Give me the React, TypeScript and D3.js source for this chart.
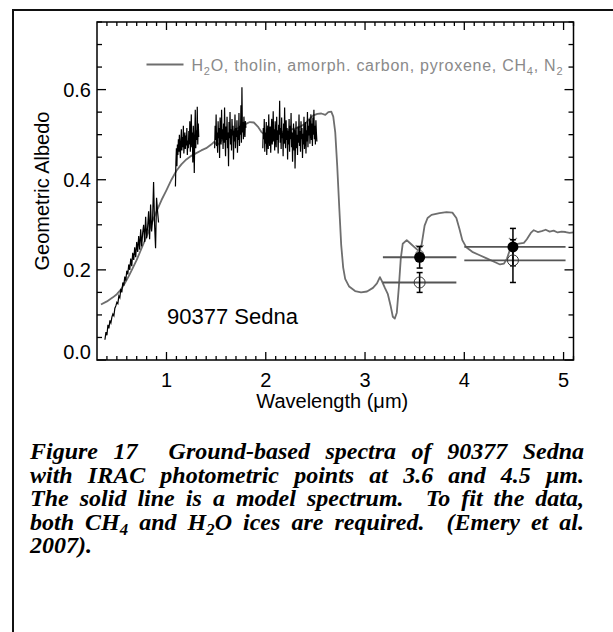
import React, { useMemo } from "react";
import * as d3 from "d3";

const W = 613;
const H = 632;

// ---------- axes ----------
const xDomain = [0.3, 5.1];
const yDomain = [0, 0.75];
const xMajorTicks = [1, 2, 3, 4, 5];
const xTickLabels = ["1", "2", "3", "4", "5"];
const yMajorTicks = [0, 0.2, 0.4, 0.6];
const yTickLabels = ["0.0", "0.2", "0.4", "0.6"];
const xMinorStep = 0.1;
const yMinorStep = 0.05;

// ---------- model spectrum (grey line) ----------
const modelWavelength = [
  0.34, 0.4, 0.46, 0.5, 0.54, 0.58, 0.62, 0.66, 0.7, 0.74, 0.78, 0.82, 0.86, 0.9, 0.95, 1.0, 1.05, 1.1,
  1.15, 1.2, 1.25, 1.3, 1.35, 1.4, 1.45, 1.48, 1.51, 1.55, 1.6, 1.65, 1.7, 1.75, 1.8, 1.84, 1.88, 1.92,
  1.96, 2.0, 2.04, 2.08, 2.12, 2.16, 2.2, 2.25, 2.3, 2.35, 2.4, 2.44, 2.48, 2.52, 2.56, 2.6, 2.63, 2.66,
  2.68, 2.7, 2.72, 2.74, 2.76, 2.78, 2.8, 2.84, 2.9, 2.96, 3.02, 3.08, 3.12, 3.15, 3.17, 3.2, 3.23, 3.26,
  3.28, 3.3, 3.32, 3.34, 3.36, 3.38, 3.42, 3.46, 3.5, 3.54, 3.57, 3.6, 3.63, 3.67, 3.75, 3.82, 3.88, 3.92,
  3.95, 3.98, 4.02, 4.08, 4.15, 4.22, 4.3, 4.36, 4.4, 4.43, 4.46, 4.5, 4.55, 4.6, 4.63, 4.67, 4.7, 4.74,
  4.78, 4.82, 4.86, 4.9, 4.94, 4.98, 5.02, 5.06, 5.1,
];
const modelAlbedo = [
  0.123, 0.13, 0.139, 0.146, 0.156, 0.17, 0.186, 0.204, 0.222, 0.243, 0.264, 0.285, 0.308, 0.33, 0.355,
  0.377, 0.4, 0.42, 0.434, 0.445, 0.453, 0.459, 0.465, 0.47, 0.478, 0.484, 0.476, 0.486, 0.498, 0.506,
  0.512, 0.518, 0.524, 0.528, 0.527, 0.518, 0.505, 0.498, 0.496, 0.5, 0.504, 0.506, 0.508, 0.511, 0.514,
  0.518, 0.525, 0.535, 0.543, 0.546, 0.547, 0.544, 0.55, 0.551, 0.54, 0.505, 0.43, 0.34, 0.255, 0.205,
  0.18, 0.163, 0.153, 0.15, 0.152, 0.16, 0.17, 0.184, 0.175, 0.16, 0.146, 0.118, 0.096, 0.092, 0.105,
  0.16, 0.225, 0.258, 0.266, 0.258, 0.25, 0.242, 0.256, 0.298, 0.315, 0.322, 0.326, 0.328, 0.327, 0.315,
  0.292, 0.266, 0.25, 0.24, 0.233, 0.226, 0.218, 0.212, 0.214, 0.225, 0.245, 0.256, 0.258, 0.26, 0.268,
  0.282, 0.288, 0.284, 0.286, 0.289, 0.285, 0.287, 0.283, 0.285, 0.284, 0.282, 0.283,
];

// ---------- ground-based spectra (black, 4 segments) ----------
const specAStart = 0.38;
const specAStep = 0.01;
const specAAlbedo = [
  0.045, 0.062, 0.055, 0.078, 0.07, 0.088, 0.082, 0.095, 0.102, 0.098, 0.115, 0.12, 0.128, 0.125, 0.142,
  0.138, 0.158, 0.15, 0.172, 0.165, 0.185, 0.176, 0.198, 0.19, 0.212, 0.2, 0.225, 0.208, 0.238, 0.222,
  0.25, 0.228, 0.262, 0.24, 0.275, 0.245, 0.29, 0.252, 0.282, 0.3, 0.262, 0.318, 0.27, 0.295, 0.33, 0.268,
  0.345, 0.285, 0.312, 0.395, 0.3, 0.248, 0.36, 0.33, 0.305,
];
const specBStart = 1.09;
const specBStep = 0.005;
const specBAlbedo = [
  0.385, 0.44, 0.47, 0.43, 0.478, 0.455, 0.49, 0.462, 0.5, 0.47, 0.448, 0.488, 0.512, 0.465, 0.495, 0.472,
  0.52, 0.458, 0.482, 0.505, 0.468, 0.498, 0.476, 0.515, 0.455, 0.487, 0.47, 0.508, 0.478, 0.53, 0.462,
  0.495, 0.545, 0.472, 0.505, 0.438, 0.52, 0.485, 0.415, 0.498, 0.555, 0.47, 0.51, 0.488, 0.562, 0.478,
  0.525, 0.495,
];
const specCStart = 1.485;
const specCStep = 0.005;
const specCAlbedo = [
  0.47, 0.52, 0.488, 0.545, 0.475, 0.505, 0.46, 0.53, 0.492, 0.515, 0.448, 0.538, 0.5, 0.478, 0.555, 0.49,
  0.512, 0.468, 0.525, 0.482, 0.56, 0.495, 0.452, 0.518, 0.488, 0.54, 0.47, 0.505, 0.43, 0.528, 0.492,
  0.55, 0.478, 0.512, 0.465, 0.535, 0.498, 0.52, 0.445, 0.508, 0.485, 0.545, 0.47, 0.515, 0.495, 0.532,
  0.46, 0.51, 0.488, 0.548, 0.475, 0.52, 0.5, 0.565, 0.482, 0.605, 0.505, 0.528, 0.49, 0.54, 0.512, 0.495,
  0.53, 0.515,
];
const specDStart = 1.97;
const specDStep = 0.005;
const specDAlbedo = [
  0.47, 0.515, 0.49, 0.535, 0.462, 0.505, 0.48, 0.528, 0.455, 0.5, 0.52, 0.468, 0.545, 0.492, 0.475, 0.518,
  0.46, 0.508, 0.535, 0.478, 0.498, 0.552, 0.485, 0.512, 0.465, 0.53, 0.495, 0.472, 0.54, 0.488, 0.51,
  0.458, 0.522, 0.5, 0.575, 0.482, 0.515, 0.468, 0.538, 0.492, 0.505, 0.452, 0.525, 0.48, 0.56, 0.495,
  0.47, 0.532, 0.488, 0.515, 0.445, 0.508, 0.478, 0.535, 0.462, 0.52, 0.49, 0.548, 0.472, 0.505, 0.44,
  0.498, 0.525, 0.465, 0.512, 0.425, 0.485, 0.53, 0.47, 0.5, 0.455, 0.518, 0.482, 0.545, 0.475, 0.508,
  0.462, 0.53, 0.49, 0.515, 0.448, 0.502, 0.478, 0.54, 0.468, 0.495, 0.528, 0.458, 0.51, 0.485, 0.55,
  0.472, 0.52, 0.498, 0.535, 0.48, 0.512, 0.545, 0.488, 0.525, 0.475, 0.538, 0.5, 0.555, 0.49, 0.52,
  0.478, 0.532, 0.505, 0.485,
];

// ---------- IRAC photometry ----------
const iracWavelength = [3.55, 4.49];
const iracBandLo = [3.18, 4.0];
const iracBandHi = [3.92, 5.02];
const filledAlbedo = [0.228, 0.251];
const filledLo = [0.204, 0.209];
const filledHi = [0.252, 0.292];
const openAlbedo = [0.172, 0.221];
const openLo = [0.15, 0.172];
const openHi = [0.194, 0.267];
const modelBandAlbedo = [0.246, 0.262];

// ---------- texts ----------
const legendParts = [
  { t: "H" },
  { t: "2", sub: true },
  { t: "O, tholin, amorph. carbon, pyroxene, CH" },
  { t: "4", sub: true },
  { t: ", N" },
  { t: "2", sub: true },
];
const objectLabel = "90377 Sedna";
const xTitle = "Wavelength (μm)";
const yTitle = "Geometric Albedo";
const captionLines = [
  "Figure 17  Ground-based spectra of 90377 Sedna",
  "with IRAC photometric points at 3.6 and 4.5 μm.",
  "The solid line is a model spectrum.  To fit the data,",
  "both CH_4 and H_2O ices are required.  (Emery et al.",
  "2007).",
];
const captionJustify = [true, true, true, true, false];

const SANS = "'Liberation Sans', Arial, Helvetica, sans-serif";
const SERIF = "'Liberation Serif', 'Times New Roman', serif";

const PL = 97;
const PR = 573.5;
const PT = 22;
const PB = 360;

function parseToken(tok: string) {
  const parts: { t: string; sub: boolean }[] = [];
  let cur = "";
  for (let i = 0; i < tok.length; i++) {
    if (tok[i] === "_" && i + 1 < tok.length) {
      if (cur) parts.push({ t: cur, sub: false });
      cur = "";
      parts.push({ t: tok[i + 1], sub: true });
      i++;
    } else cur += tok[i];
  }
  if (cur) parts.push({ t: cur, sub: false });
  return parts;
}

function segPoints(start: number, step: number, vals: number[]) {
  return vals.map((v, i) => [start + i * step, v] as [number, number]);
}

export default function App() {
  const x = d3.scaleLinear().domain(xDomain).range([PL, PR]);
  const y = d3.scaleLinear().domain(yDomain).range([PB, PT]);

  const line = d3
    .line<[number, number]>()
    .x((d) => x(d[0]))
    .y((d) => y(d[1]));

  const modelPts = modelWavelength.map((w, i) => [w, modelAlbedo[i]] as [number, number]);
  const segs = [
    segPoints(specAStart, specAStep, specAAlbedo),
    segPoints(specBStart, specBStep, specBAlbedo),
    segPoints(specCStart, specCStep, specCAlbedo),
    segPoints(specDStart, specDStep, specDAlbedo),
  ];

  const xMinor = d3.range(0.4, xDomain[1] + 1e-6, xMinorStep).filter((v) => Math.abs(v - Math.round(v)) > 1e-6);
  const yMinor = d3.range(0.05, yDomain[1] + 1e-6, yMinorStep).filter(
    (v) => !yMajorTicks.some((t) => Math.abs(t - v) < 1e-6)
  );

  const capFs = 24;
  const capLeft = 30;
  const capRight = 584;
  const capBase0 = 459;
  const capLead = 23.5;

  const caption = useMemo(() => {
    const canvas = document.createElement("canvas");
    const ctx = canvas.getContext("2d")!;
    const measure = (s: string, sub: boolean) => {
      ctx.font = `italic bold ${sub ? capFs * 0.7 : capFs}px 'Liberation Serif'`;
      return ctx.measureText(s).width;
    };
    ctx.font = `italic bold ${capFs}px 'Liberation Serif'`;
    const spaceW = ctx.measureText(" ").width;
    return captionLines.map((ln, li) => {
      const toks = ln.split(" ").map(parseToken);
      const widths = toks.map((p) => p.reduce((s, q) => s + measure(q.t, q.sub), 0));
      const total = widths.reduce((a, b) => a + b, 0);
      const gap = captionJustify[li] && toks.length > 1 ? (capRight - capLeft - total) / (toks.length - 1) : spaceW;
      let pos = capLeft;
      const out: { x: number; parts: { t: string; sub: boolean }[] }[] = [];
      toks.forEach((p, i) => {
        if (p.length) out.push({ x: pos, parts: p });
        pos += widths[i] + gap;
      });
      return out;
    });
  }, []);

  const grey = "#6e6e6e";

  return (
    <svg
      width={W}
      height={H}
      style={{ position: "absolute", left: 0, top: 0, display: "block", background: "#fff" }}
    >
      <rect x={0} y={0} width={W} height={H} fill="#fff" />
      {/* outer frame (only top and left visible) */}
      <line x1={12} y1={10} x2={W} y2={10} stroke="#111" strokeWidth={2} />
      <line x1={13} y1={10} x2={13} y2={H} stroke="#111" strokeWidth={2} />

      {/* model */}
      <path d={line(modelPts) || ""} fill="none" stroke={grey} strokeWidth={1.8} strokeLinejoin="round" />

      {/* data spectra */}
      {segs.map((s, i) => (
        <path key={i} d={line(s) || ""} fill="none" stroke="#000" strokeWidth={1.2} strokeLinejoin="miter" />
      ))}

      {/* photometry bandwidth bars */}
      {iracWavelength.map((w, i) => (
        <g key={"bw" + i} stroke="#555" strokeWidth={1.8}>
          <line x1={x(iracBandLo[i])} x2={x(iracBandHi[i])} y1={y(filledAlbedo[i])} y2={y(filledAlbedo[i])} />
          <line x1={x(iracBandLo[i])} x2={x(iracBandHi[i])} y1={y(openAlbedo[i])} y2={y(openAlbedo[i])} />
        </g>
      ))}

      {/* model band values (x markers) */}
      {iracWavelength.map((w, i) => {
        const cx = x(w);
        const cy = y(modelBandAlbedo[i]);
        const r = 4;
        return (
          <g key={"mx" + i} stroke="#888" strokeWidth={1.2}>
            <line x1={cx - r} y1={cy - r} x2={cx + r} y2={cy + r} />
            <line x1={cx - r} y1={cy + r} x2={cx + r} y2={cy - r} />
          </g>
        );
      })}

      {/* error bars */}
      {iracWavelength.map((w, i) => {
        const cx = x(w);
        const cw = 3;
        return (
          <g key={"eb" + i} stroke="#000" strokeWidth={1.5}>
            <line x1={cx} x2={cx} y1={y(openLo[i])} y2={y(openHi[i])} />
            <line x1={cx - cw} x2={cx + cw} y1={y(openLo[i])} y2={y(openLo[i])} />
            <line x1={cx - cw} x2={cx + cw} y1={y(openHi[i])} y2={y(openHi[i])} />
            <line x1={cx} x2={cx} y1={y(filledLo[i])} y2={y(filledHi[i])} />
            <line x1={cx - cw} x2={cx + cw} y1={y(filledLo[i])} y2={y(filledLo[i])} />
            <line x1={cx - cw} x2={cx + cw} y1={y(filledHi[i])} y2={y(filledHi[i])} />
          </g>
        );
      })}

      {/* points */}
      {iracWavelength.map((w, i) => (
        <g key={"pt" + i}>
          <circle cx={x(w)} cy={y(openAlbedo[i])} r={5.5} fill="none" stroke="#333" strokeWidth={1} />
          <circle cx={x(w)} cy={y(filledAlbedo[i])} r={5.5} fill="#000" />
        </g>
      ))}

      {/* plot frame */}
      <rect x={PL} y={PT} width={PR - PL} height={PB - PT} fill="none" stroke="#000" strokeWidth={1.5} />

      {/* ticks */}
      <g stroke="#000" strokeWidth={1.3}>
        {xMajorTicks.map((t) => (
          <g key={"xt" + t}>
            <line x1={x(t)} x2={x(t)} y1={PB} y2={PB - 8} />
            <line x1={x(t)} x2={x(t)} y1={PT} y2={PT + 8} />
          </g>
        ))}
        {xMinor.map((t) => (
          <g key={"xm" + t}>
            <line x1={x(t)} x2={x(t)} y1={PB} y2={PB - 4} />
            <line x1={x(t)} x2={x(t)} y1={PT} y2={PT + 4} />
          </g>
        ))}
        {yMajorTicks.map((t) => (
          <g key={"yt" + t}>
            <line x1={PL} x2={PL + 9} y1={y(t)} y2={y(t)} />
            <line x1={PR} x2={PR - 9} y1={y(t)} y2={y(t)} />
          </g>
        ))}
        {yMinor.map((t) => (
          <g key={"ym" + t}>
            <line x1={PL} x2={PL + 5} y1={y(t)} y2={y(t)} />
            <line x1={PR} x2={PR - 5} y1={y(t)} y2={y(t)} />
          </g>
        ))}
      </g>

      {/* tick labels */}
      <g fontFamily={SANS} fontSize={20} fill="#000">
        {xMajorTicks.map((t, i) => (
          <text key={"xl" + t} x={x(t)} y={PB + 27} textAnchor="middle">
            {xTickLabels[i]}
          </text>
        ))}
        {yMajorTicks.map((t, i) => (
          <text key={"yl" + t} x={PL - 6} y={t === 0 ? y(t) - 1 : y(t) + 7} textAnchor="end">
            {yTickLabels[i]}
          </text>
        ))}
      </g>

      {/* axis titles */}
      <text x={(PL + PR) / 2 - 3} y={408} textAnchor="middle" fontFamily={SANS} fontSize={20}>
        {xTitle}
      </text>
      <text
        transform={`translate(49, ${(PT + PB) / 2}) rotate(-90)`}
        textAnchor="middle"
        fontFamily={SANS}
        fontSize={20}
      >
        {yTitle}
      </text>

      {/* legend */}
      <line x1={146.5} x2={183.5} y1={64.5} y2={64.5} stroke={grey} strokeWidth={1.8} />
      <text x={191.5} y={70.5} fontFamily={SANS} fontSize={16} fill="#8a8a8a" textLength={371} lengthAdjust="spacing">
        {legendParts.map((p, i) => {
          const prevSub = i > 0 && legendParts[i - 1].sub;
          const dy = p.sub ? 4 : prevSub ? -4 : 0;
          return (
            <tspan key={i} fontSize={p.sub ? 11 : 16} dy={dy}>
              {p.t}
            </tspan>
          );
        })}
      </text>

      {/* object label */}
      <text x={167} y={324} fontFamily={SANS} fontSize={22}>
        {objectLabel}
      </text>

      {/* caption */}
      <g fontFamily={SERIF} fontStyle="italic" fontWeight="bold" fontSize={capFs} fill="#000">
        {caption.map((words, li) =>
          words.map((w, wi) => (
            <text key={li + "-" + wi} x={w.x} y={capBase0 + li * capLead}>
              {w.parts.map((p, pi) => {
                const prevSub = pi > 0 && w.parts[pi - 1].sub;
                const dy = p.sub ? capFs * 0.22 : prevSub ? -capFs * 0.22 : 0;
                return (
                  <tspan key={pi} fontSize={p.sub ? capFs * 0.7 : capFs} dy={dy}>
                    {p.t}
                  </tspan>
                );
              })}
            </text>
          ))
        )}
      </g>
    </svg>
  );
}
